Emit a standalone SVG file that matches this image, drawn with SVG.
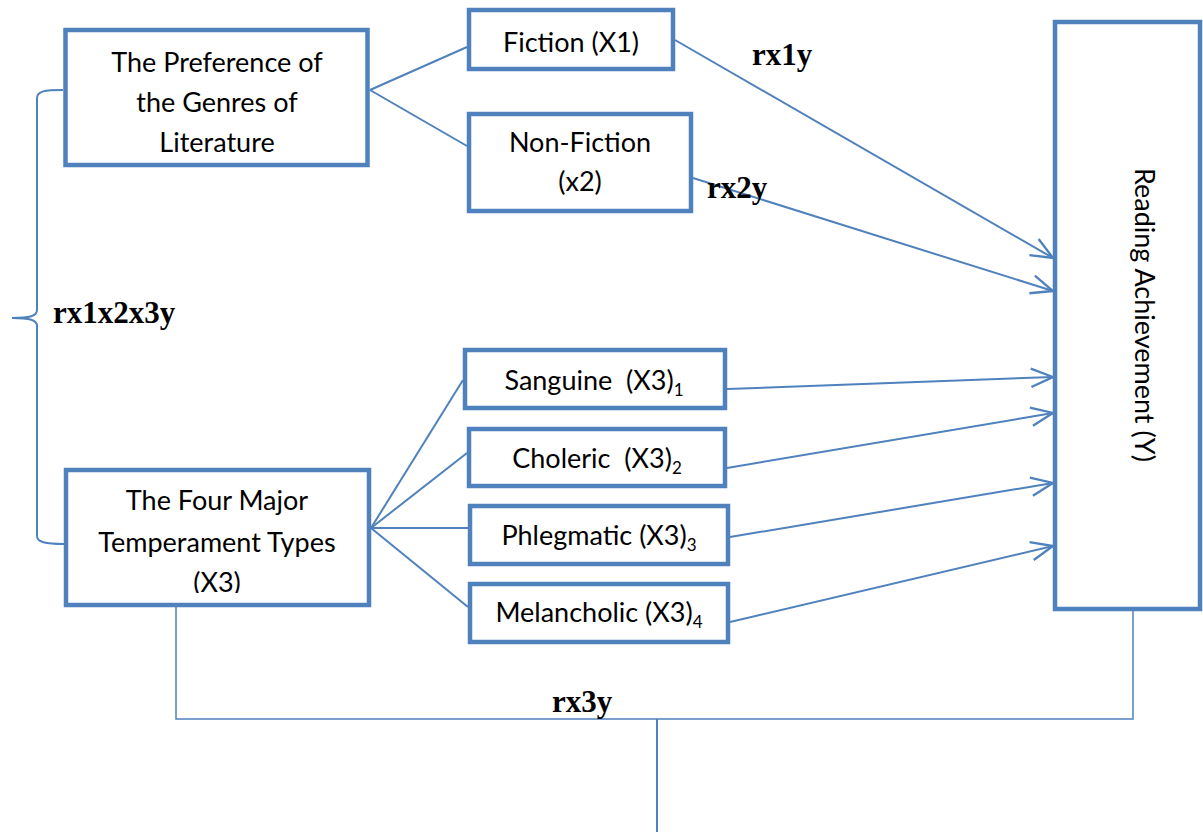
<svg xmlns="http://www.w3.org/2000/svg" width="1203" height="832" viewBox="0 0 1203 832">
<style>
.box{fill:#fff;stroke:#4F81BD;stroke-width:4.5}
.t{font-family:Lato,"Open Sans","Liberation Sans",sans-serif;font-size:27px;fill:#000;text-anchor:middle}
.sub{font-size:17px}
.lbl{font-family:"Liberation Serif","Times New Roman",serif;font-weight:bold;font-size:31px;fill:#000}
.ln{fill:none;stroke:#4F81BD;stroke-width:2}
.thin{fill:none;stroke:#4F81BD;stroke-width:1.5}
</style>
<defs>
<marker id="arr" markerUnits="userSpaceOnUse" markerWidth="30" markerHeight="30" viewBox="-22 -12 26 24" refX="0" refY="0" orient="auto">
<path d="M-19,-8 L0,0 L-19,8" fill="none" stroke="#4F81BD" stroke-width="2"/>
</marker>
<clipPath id="clipFour"><rect x="66" y="470" width="303" height="123"/></clipPath>
</defs>
<g id="connectors">
<path class="ln" d="M63,90 C45,90 37,91 37,98 L37,310 C37,316 30,318 12,318 C30,318 37,320 37,326 L37,536 C37,542 45,544 64,544"/>
<line class="ln" x1="370" y1="90" x2="467" y2="47"/>
<line class="ln" x1="370" y1="90" x2="467" y2="146"/>
<line class="ln" x1="371" y1="528" x2="463" y2="380"/>
<line class="ln" x1="371" y1="528" x2="467" y2="453"/>
<line class="ln" x1="371" y1="528" x2="468" y2="528"/>
<line class="ln" x1="371" y1="528" x2="468" y2="607"/>
<line class="ln" x1="675" y1="40" x2="1053" y2="258" marker-end="url(#arr)"/>
<line class="ln" x1="693" y1="178" x2="1053" y2="291" marker-end="url(#arr)"/>
<line class="ln" x1="727" y1="389" x2="1053" y2="377" marker-end="url(#arr)"/>
<line class="ln" x1="727" y1="468" x2="1053" y2="413" marker-end="url(#arr)"/>
<line class="ln" x1="730" y1="537" x2="1053" y2="483" marker-end="url(#arr)"/>
<line class="ln" x1="730" y1="622" x2="1053" y2="546" marker-end="url(#arr)"/>
<path class="thin" d="M176,607 L176,719 L1133,719 L1133,611"/>
<line class="ln" x1="657" y1="719" x2="657" y2="832"/>
<text class="lbl" x="53" y="323">rx1x2x3y</text>
<text class="lbl" x="752" y="65">rx1y</text>
<text class="lbl" x="707" y="198">rx2y</text>
<text class="lbl" x="552" y="712">rx3y</text>
</g>
<g id="preference">
<rect class="box" x="65.5" y="30" width="302" height="135"/>
<text class="t" x="217" y="72">The Preference of</text>
<text class="t" x="217" y="112">the Genres of</text>
<text class="t" x="217" y="152">Literature</text>
</g>
<g id="fiction">
<rect class="box" x="469" y="10" width="204" height="59"/>
<text class="t" x="571" y="52">Fiction (X1)</text>
</g>
<g id="nonfiction">
<rect class="box" x="469" y="114" width="222" height="97"/>
<text class="t" x="580" y="152">Non-Fiction</text>
<text class="t" x="580" y="191">(x2)</text>
</g>
<g id="four">
<rect class="box" x="66" y="470" width="303" height="135"/>
<text class="t" x="217" y="510">The Four Major</text>
<text class="t" x="217" y="552">Temperament Types</text>
<text class="t" x="217" y="592" clip-path="url(#clipFour)">(X3)</text>
</g>
<g id="sanguine">
<rect class="box" x="465" y="350" width="260" height="58"/>
<text class="t" x="594" y="390" xml:space="preserve">Sanguine  (X3)<tspan class="sub" dy="6">1</tspan></text>
</g>
<g id="choleric">
<rect class="box" x="469" y="429" width="256" height="57"/>
<text class="t" x="597" y="468" xml:space="preserve">Choleric  (X3)<tspan class="sub" dy="6">2</tspan></text>
</g>
<g id="phlegmatic">
<rect class="box" x="470" y="506" width="258" height="58"/>
<text class="t" x="599" y="545">Phlegmatic (X3)<tspan class="sub" dy="6">3</tspan></text>
</g>
<g id="melancholic">
<rect class="box" x="470" y="584" width="258" height="58"/>
<text class="t" x="599" y="622">Melancholic (X3)<tspan class="sub" dy="6">4</tspan></text>
</g>
<g id="reading">
<rect class="box" x="1055" y="22" width="145" height="587"/>
<text class="t" transform="translate(1135,315) rotate(90)" x="0" y="0">Reading Achievement (Y)</text>
</g>
</svg>
